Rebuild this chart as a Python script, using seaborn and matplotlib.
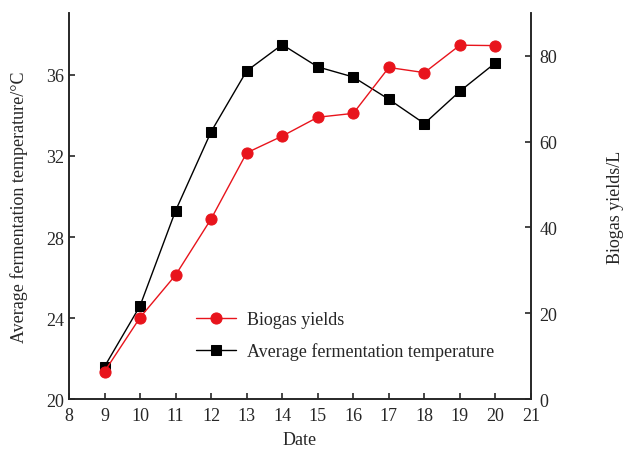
"""Biogas yields and average fermentation temperature by date."""
import matplotlib
matplotlib.use('Agg')
import matplotlib.pyplot as plt
import seaborn as sns

dates = [9, 10, 11, 12, 13, 14, 15, 16, 17, 18, 19, 20]
temperature = [21.6, 24.6, 29.3, 33.2, 36.2, 37.5, 36.4, 35.9, 34.8, 33.6, 35.2, 36.6]
biogas = [6.4, 19.0, 28.9, 42.0, 57.4, 61.3, 65.7, 66.6, 77.3, 76.1, 82.5, 82.4]

sns.set_style('ticks')
plt.rcParams['font.family'] = ['Liberation Serif', 'DejaVu Serif']
plt.rcParams['font.size'] = 13
plt.rcParams['xtick.direction'] = 'in'
plt.rcParams['ytick.direction'] = 'in'

fig = plt.figure(figsize=(6.41, 4.52), dpi=100)
ax = fig.add_axes([0.1076, 0.115, 0.7208, 0.854])
ax2 = ax.twinx()

sns.lineplot(x=dates, y=temperature, ax=ax, color='black', marker='s',
             markersize=7, markeredgecolor='black', linewidth=1,
             label='Average fermentation temperature', legend=False)
sns.lineplot(x=dates, y=biogas, ax=ax2, color='#e8141c', marker='o',
             markersize=8, markeredgecolor='#e8141c', linewidth=1,
             label='Biogas yields', legend=False)

ax.set_xlim(8, 21)
ax.set_xticks(range(8, 22))
ax.set_ylim(20, 39.06)
ax.set_yticks([20, 24, 28, 32, 36])
ax2.set_ylim(0, 90)
ax2.set_yticks([0, 20, 40, 60, 80])

ax.set_xlabel('Date', fontsize=13, labelpad=5)
ax.set_ylabel('Average fermentation temperature/°C', fontsize=13, labelpad=13)
ax2.set_ylabel('Biogas yields/L', fontsize=13, labelpad=36)

for a in (ax, ax2):
    a.spines['top'].set_visible(False)
    for s in a.spines.values():
        s.set_linewidth(1.2)
    a.tick_params(width=1.2, length=4, labelsize=13)
ax.tick_params(axis='y', right=False)
ax.tick_params(axis='x', pad=6)
ax2.tick_params(axis='y', left=False, pad=6)

h1, l1 = ax2.get_legend_handles_labels()
h2, l2 = ax.get_legend_handles_labels()
ax2.legend(h1 + h2, l1 + l2, frameon=False, loc='upper left',
           bbox_to_anchor=(0.24, 0.27), fontsize=13, handlelength=2.2,
           labelspacing=0.8, handletextpad=0.6)

fig.savefig('out.png', dpi=100)
